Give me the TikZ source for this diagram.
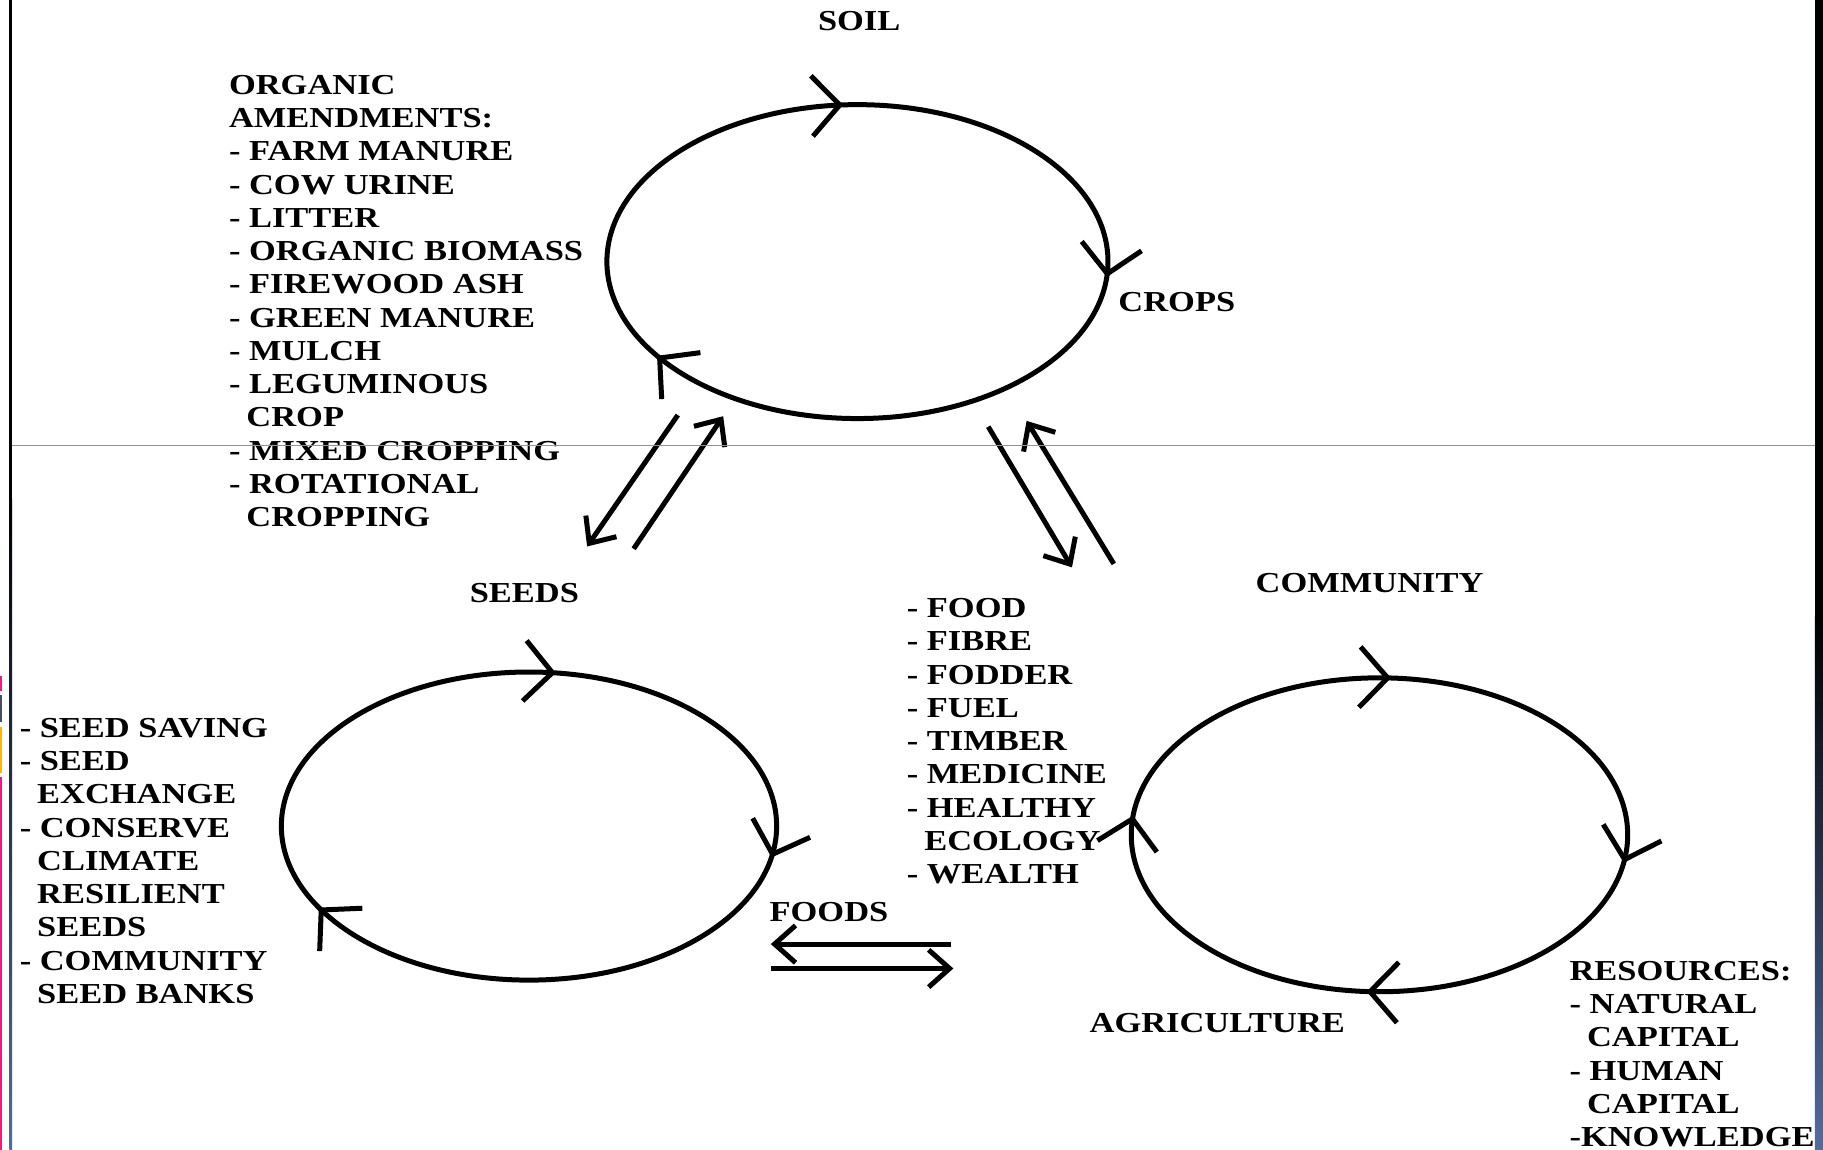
\documentclass[tikz,border=0pt]{standalone}
\usepackage{fontspec}
\setmainfont{Liberation Serif}[FakeStretch=1.19]
\usetikzlibrary{arrows.meta}
\usetikzlibrary{decorations.markings}

\definecolor{framepink}{RGB}{232,30,120}
\definecolor{framegray}{RGB}{70,80,95}
\definecolor{frameamber}{RGB}{250,180,20}
\definecolor{frameblue}{RGB}{82,108,158}
\newcommand{\contline}{\hspace*{15pt}}

\begin{document}
\begin{tikzpicture}
    [
    x=1pt, y=-1pt,
    every node/.style={font=\fontsize{24.9}{28.6}\selectfont\bfseries, inner sep=0pt, outer sep=0pt},
    heading/.style={anchor=base},
    itemlist/.style={anchor=north west, align=left},
    loopline/.style={line width=4.3pt},
    chevron at/.style={postaction={decorate, decoration={markings,
        mark=at position #1 with {\arrow{Straight Barb[length=24pt,width=52pt]}}}}},
    flowline/.style={line width=4.3pt, -{Straight Barb[length=18pt,width=32pt]}},
    ]

    \useasboundingbox (0,0) rectangle (1568,989);
    \fill[white] (0,0) rectangle (1568,989);

    % frame bits at the edges
    \fill[black] (8,0) rectangle (10.5,430);
    \shade[top color=black, bottom color=frameblue] (8,430) rectangle (10.5,989);
    \fill[black] (1561,0) rectangle (1568,530);
    \shade[top color=black, bottom color=frameblue] (1561,530) rectangle (1568,989);
    \fill[framepink] (0,581) rectangle (2,594);
    \fill[framegray] (0,598) rectangle (2,621);
    \fill[frameamber] (0,625) rectangle (2,665);
    \fill[framepink] (0,668) rectangle (2,989);

    % the three cycles
    \coordinate (cyc_soil) at (737.5,225);
    \coordinate (cyc_seeds) at (455,710.5);
    \coordinate (cyc_community) at (1186.5,718);

    \draw[loopline, chevron at=0.739, chevron at=0.012, chevron at=0.415]
        (cyc_soil) ellipse [x radius=215.5, y radius=135];
    \draw[loopline, chevron at=0.771, chevron at=0.025, chevron at=0.428]
        (cyc_seeds) ellipse [x radius=213, y radius=132.5];
    \draw[loopline, chevron at=0.759, chevron at=0.022, chevron at=0.26, chevron at=0.515]
        (cyc_community) ellipse [x radius=213.5, y radius=135];

    \node[heading] (lbl_soil) at (739,26.2) {SOIL};
    \node[heading, anchor=base west] (lbl_crops) at (962,268.2) {CROPS};
    \node[heading] (lbl_seeds) at (451,518.2) {SEEDS};
    \node[heading] (lbl_community) at (1178,509.2) {COMMUNITY};
    \node[heading] (lbl_foods) at (713,792.2) {FOODS};
    \node[heading] (lbl_agri) at (1047,888.2) {AGRICULTURE};

    \node[itemlist] (lst_organic) at (197,64.7)
    {ORGANIC\\AMENDMENTS:\\- FARM MANURE\\- COW URINE\\- LITTER\\- ORGANIC BIOMASS\\
     - FIREWOOD ASH\\- GREEN MANURE\\- MULCH\\- LEGUMINOUS\\\contline CROP\\
     - MIXED CROPPING\\- ROTATIONAL\\\contline CROPPING};

    \node[itemlist] (lst_seeds) at (17,617.7)
    {- SEED SAVING\\- SEED\\\contline EXCHANGE\\- CONSERVE\\\contline CLIMATE\\
     \contline RESILIENT\\\contline SEEDS\\- COMMUNITY\\\contline SEED BANKS};

    \node[itemlist] (lst_yield) at (780,514.7)
    {- FOOD\\- FIBRE\\- FODDER\\- FUEL\\- TIMBER\\- MEDICINE\\- HEALTHY\\
     \contline ECOLOGY\\- WEALTH};

    \node[itemlist] (lst_resources) at (1350,826.7)
    {RESOURCES:\\- NATURAL\\\contline CAPITAL\\- HUMAN\\\contline CAPITAL\\-KNOWLEDGE};

    % two-way links between the cycles
    \coordinate (soil_to_seeds) at (583,357);
    \coordinate (seeds_in) at (505,470);
    \coordinate (seeds_to_soil) at (545,472);
    \coordinate (soil_in) at (622,358);
    \draw[flowline] (soil_to_seeds) -- (seeds_in);
    \draw[flowline] (seeds_to_soil) -- (soil_in);

    \coordinate (soil_to_comm) at (850,367);
    \coordinate (comm_in) at (922,488);
    \coordinate (comm_to_soil) at (958,485);
    \coordinate (soil_back) at (883,362);
    \draw[flowline] (soil_to_comm) -- (comm_in);
    \draw[flowline] (comm_to_soil) -- (soil_back);

    \coordinate (comm_to_seeds) at (818,812);
    \coordinate (seeds_back) at (663,812);
    \coordinate (seeds_to_comm) at (663,833);
    \coordinate (comm_back) at (820,833);
    \draw[flowline] (comm_to_seeds) -- (seeds_back);
    \draw[flowline] (seeds_to_comm) -- (comm_back);

    \draw[gray!85, line width=1pt] (10.5,383.5) -- (1561,383.5);
\end{tikzpicture}
\end{document}
